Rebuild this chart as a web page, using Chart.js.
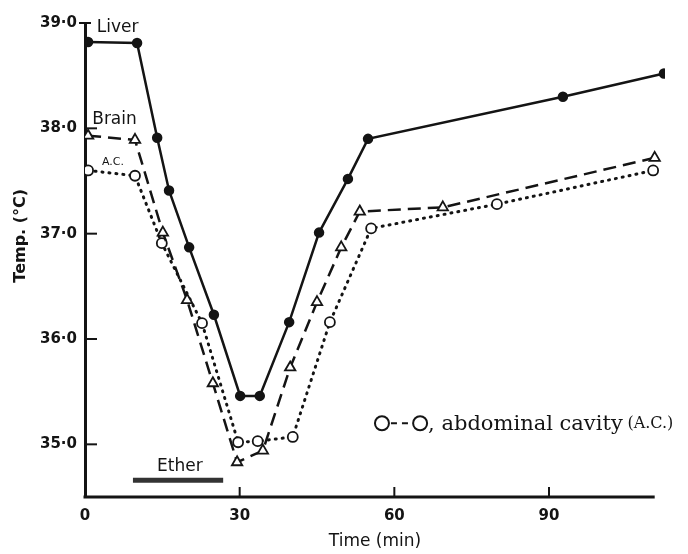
<!DOCTYPE html>
<html lang="en">
<head>
<meta charset="UTF-8" />
<title>Body temperature under ether</title>
<script src="https://cdn.jsdelivr.net/npm/chart.js"></script>
<style>
  html, body { margin: 0; padding: 0; background: #fff; }
  #wrap { width: 688px; height: 554px; }
</style>
</head>
<body>
<div id="wrap"><canvas id="tempChart" width="688" height="554"></canvas></div>
<script>
    // values (time in min, temperature in °C)
    const liverTime = [0.6, 10.1, 14.0, 16.3, 20.2, 25.0, 30.1, 33.9, 39.6, 45.4, 51.0, 54.9, 92.7, 112.3];
    const liverTemp = [38.82, 38.81, 37.91, 37.41, 36.87, 36.23, 35.46, 35.46, 36.16, 37.01, 37.52, 37.90, 38.30, 38.52];

    const brainTime = [0.6, 9.7, 15.1, 19.8, 24.8, 29.5, 34.5, 39.8, 45.0, 49.7, 53.3, 69.4, 110.5];
    const brainTemp = [37.93, 37.89, 37.01, 36.37, 35.58, 34.83, 34.94, 35.73, 36.35, 36.87, 37.21, 37.25, 37.72];

    const acTime = [0.6, 9.7, 14.9, 22.7, 29.7, 33.5, 40.3, 47.5, 55.5, 79.9, 110.2];
    const acTemp = [37.60, 37.55, 36.91, 36.15, 35.02, 35.03, 35.07, 36.16, 37.05, 37.28, 37.60];

    const etherTime = [9.3, 26.8];
    const etherLevel = 34.66;

    const xTicks = [0, 30, 60, 90];
    const yTicks = [35, 36, 37, 38, 39];
    const xAxisEnd = 110.5;

    const ink = '#141414';

    function toPoints(xs, ys) {
        return xs.map((x, i) => ({ x: x, y: ys[i] }));
    }

    // axis line, inside tick marks, curve names, ether note and the key
    const notesPlugin = {
        id: 'notes',
        afterDraw(chart) {
            const { ctx, chartArea } = chart;
            const x = chart.scales.x;
            const y = chart.scales.y;
            ctx.save();
            ctx.strokeStyle = ink;
            ctx.fillStyle = ink;

            // time axis stops a little before the last readings
            ctx.lineWidth = 3;
            ctx.beginPath();
            ctx.moveTo(chartArea.left - 1.5, chartArea.bottom);
            ctx.lineTo(x.getPixelForValue(xAxisEnd), chartArea.bottom);
            ctx.stroke();

            ctx.lineWidth = 2;
            yTicks.forEach(v => {
                const py = y.getPixelForValue(v);
                ctx.beginPath();
                ctx.moveTo(chartArea.left - (v === 39 ? 6 : 0), py);
                ctx.lineTo(chartArea.left + (v === 39 ? 6 : 12), py);
                ctx.stroke();
            });
            xTicks.forEach(v => {
                if (v === 0) return;
                const px = x.getPixelForValue(v);
                ctx.beginPath();
                ctx.moveTo(px, chartArea.bottom);
                ctx.lineTo(px, chartArea.bottom - 10);
                ctx.stroke();
            });

            // y title, sits a bit above the middle in the original
            ctx.save();
            ctx.translate(21, y.getPixelForValue(36.98));
            ctx.rotate(-Math.PI / 2);
            ctx.textAlign = 'center';
            ctx.textBaseline = 'middle';
            ctx.font = 'bold 16px "DejaVu Sans"';
            ctx.fillText('Temp. (°C)', 0, 0);
            ctx.restore();

            ctx.textBaseline = 'middle';
            ctx.textAlign = 'left';
            ctx.font = '17px "DejaVu Sans"';
            ctx.fillText('Liver', x.getPixelForValue(2.3), y.getPixelForValue(38.96));
            ctx.fillText('Brain', x.getPixelForValue(1.4), y.getPixelForValue(38.08));
            ctx.font = '11px "DejaVu Sans"';
            ctx.fillText('A.C.', x.getPixelForValue(3.3), y.getPixelForValue(37.68));

            ctx.font = '17px "DejaVu Sans"';
            ctx.textAlign = 'center';
            ctx.fillText('Ether', x.getPixelForValue(18.4), y.getPixelForValue(34.79));

            // key: O---O, abdominal cavity (A.C.)
            const ky = y.getPixelForValue(35.2);
            const k1 = x.getPixelForValue(57.6);
            const k2 = x.getPixelForValue(65.0);
            ctx.lineWidth = 2;
            ctx.beginPath(); ctx.arc(k1, ky, 7, 0, Math.PI * 2); ctx.stroke();
            ctx.beginPath(); ctx.arc(k2, ky, 7, 0, Math.PI * 2); ctx.stroke();
            ctx.setLineDash([6, 5]);
            ctx.beginPath(); ctx.moveTo(k1 + 9, ky); ctx.lineTo(k2 - 8, ky); ctx.stroke();
            ctx.setLineDash([]);
            ctx.textAlign = 'left';
            ctx.font = '21px "DejaVu Serif"';
            const txt = ', abdominal cavity ';
            ctx.fillText(txt, k2 + 8, ky + 1);
            const w = ctx.measureText(txt).width;
            ctx.font = '16px "DejaVu Serif"';
            ctx.fillText('(A.C.)', k2 + 6 + w, ky + 1);
            ctx.restore();
        }
    };

    const chart = new Chart(document.getElementById('tempChart'), {
        type: 'line',
        data: {
            datasets: [
                {
                    label: 'Liver',
                    data: toPoints(liverTime, liverTemp),
                    borderColor: ink,
                    borderWidth: 2.5,
                    pointRadius: 4,
                    pointBackgroundColor: ink,
                    pointBorderColor: ink
                },
                {
                    label: 'Brain',
                    data: toPoints(brainTime, brainTemp),
                    borderColor: ink,
                    borderWidth: 2.5,
                    borderDash: [13, 7],
                    pointStyle: 'triangle',
                    pointRadius: 6,
                    pointBorderWidth: 1.8,
                    pointBackgroundColor: '#fff',
                    pointBorderColor: ink
                },
                {
                    label: 'A.C.',
                    data: toPoints(acTime, acTemp),
                    borderColor: ink,
                    borderWidth: 3,
                    borderDash: [1, 6],
                    borderCapStyle: 'round',
                    pointRadius: 5,
                    pointBorderWidth: 1.8,
                    pointBackgroundColor: '#fff',
                    pointBorderColor: ink
                },
                {
                    label: 'Ether',
                    data: etherTime.map(t => ({ x: t, y: etherLevel })),
                    borderColor: '#333',
                    borderWidth: 5,
                    pointRadius: 0
                }
            ]
        },
        options: {
            responsive: false,
            animation: false,
            layout: { padding: { top: 23, right: 23, left: 0, bottom: 0 } },
            plugins: {
                legend: { display: false },
                tooltip: { enabled: false }
            },
            scales: {
                x: {
                    type: 'linear',
                    min: 0,
                    max: 112.5,
                    afterBuildTicks: s => { s.ticks = xTicks.map(v => ({ value: v })); },
                    afterFit: s => { s.height = 57; },
                    grid: { display: false, drawTicks: false },
                    border: { display: false },
                    ticks: {
                        color: ink,
                        padding: 10,
                        font: { family: 'DejaVu Sans', size: 15, weight: 'bold' }
                    },
                    title: {
                        display: true,
                        text: 'Time (min)',
                        color: ink,
                        padding: { top: 0, bottom: 2 },
                        font: { family: 'DejaVu Sans', size: 17 }
                    }
                },
                y: {
                    min: 34.5,
                    max: 39,
                    afterBuildTicks: s => { s.ticks = yTicks.map(v => ({ value: v })); },
                    afterFit: s => { s.width = 85; },
                    grid: { display: false, drawTicks: false },
                    border: { color: ink, width: 3 },
                    ticks: {
                        color: ink,
                        padding: 8,
                        callback: v => v.toFixed(1).replace('.', '·'),
                        font: { family: 'DejaVu Sans', size: 15, weight: 'bold' }
                    }
                }
            }
        },
        plugins: [notesPlugin]
    });
</script>
</body>
</html>
